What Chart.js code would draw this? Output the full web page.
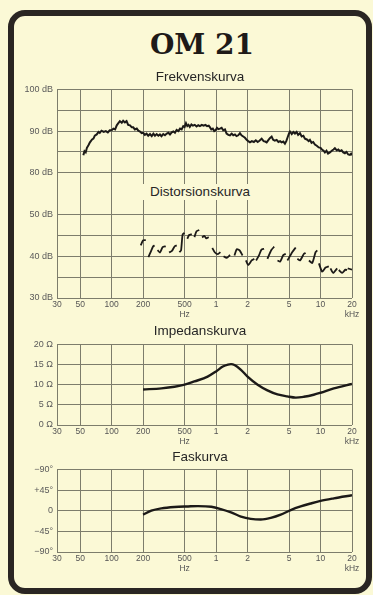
<!DOCTYPE html>
<html><head><meta charset="utf-8">
<script src="https://cdn.jsdelivr.net/npm/chart.js@4"></script>
<style>
html,body{margin:0;padding:0;background:#fdfce4;}
#page{position:relative;width:373px;height:595px;overflow:hidden;background:#fbf9d6;font-family:'Liberation Sans',Arial,sans-serif;}
#frame{position:absolute;left:8px;top:10px;width:364px;height:584px;box-sizing:border-box;border:6px solid #2a2623;border-radius:17px;}
.t{position:absolute;left:100px;width:200px;text-align:center;font-size:13.5px;color:#262626;line-height:16px;z-index:5;}
#main{position:absolute;left:102px;top:28px;width:200px;text-align:center;font-family:'DejaVu Serif',serif;font-weight:bold;font-size:28px;line-height:34px;color:#1e1a18;}
#dist{left:141px;width:118px;top:184px;height:16px;background:#fbf9d6;}
canvas{position:absolute;left:0;}
</style></head>
<body><div id="page">
<div id="frame"></div>
<div id="main">OM 21</div>
<div class="t" style="top:69px">Frekvenskurva</div>
<div class="t" id="dist">Distorsionskurva</div>
<div class="t" style="top:323px">Impedanskurva</div>
<div class="t" style="top:449px">Faskurva</div>
<canvas id="c1" width="373" height="242" style="top:80px"></canvas>
<canvas id="c2" width="373" height="114" style="top:335px"></canvas>
<canvas id="c3" width="373" height="116" style="top:460px"></canvas>
</div>
<script>
// ---- data ----
const freqHz = [53.6,55,56.5,58,60,62,65,67,69,72,75,77,80,84,88,92,96,100,104,108,112,116,120,125,129,134,139,144,150,156,161,167,174,180,187,194,201,208,216,224,233,242,251,260,270,280,290,300,312,324,337,350,362,376,390,404,419,435,452,468,485,500,515,530,545,560,580,600,625,650,675,700,730,760,790,820,850,875,900,930,960,990,1020,1050,1090,1130,1170,1216,1260,1310,1358,1410,1460,1515,1570,1630,1692,1750,1820,1890,1960,2030,2110,2200,2300,2400,2500,2600,2730,2850,2950,3048,3150,3270,3403,3520,3650,3800,3950,4100,4240,4400,4560,4700,4850,5000,5100,5300,5500,5690,5900,6100,6350,6600,6850,7090,7400,7700,7910,8200,8500,8830,9200,9600,10000,10300,10700,11000,11400,11800,12290,12800,13300,13720,14300,14800,15300,15900,16500,17100,17700,18400,19080,19600,20000];
const freqDb = [84.2,85.2,84.9,86.0,86.6,87.3,88.0,88.2,88.9,89.2,89.8,89.6,90.1,89.8,90.0,89.7,90.2,90.2,90.6,90.4,91.4,91.9,92.4,92.0,92.5,92.1,92.4,91.5,91.4,90.9,90.9,90.4,90.6,90.1,89.9,89.5,89.6,89.1,89.4,88.9,89.3,88.8,89.4,88.9,89.3,88.9,89.2,88.8,89.3,89.0,89.4,89.6,89.2,89.7,89.9,89.6,90.3,90.0,90.6,90.4,91.2,91.0,91.9,91.2,91.5,91.0,91.6,91.3,91.5,91.1,91.4,91.2,91.5,91.3,91.5,91.2,91.3,90.9,90.4,90.6,90.0,90.2,90.8,90.5,90.6,90.8,90.2,90.4,89.4,89.1,89.0,89.4,89.0,89.2,88.8,89.0,89.5,89.0,88.7,88.4,87.9,87.6,87.3,87.6,87.4,87.8,87.4,87.7,88.2,87.6,87.5,87.3,87.8,88.3,88.7,87.9,87.7,87.9,87.4,87.6,87.3,87.5,87.0,87.6,88.6,89.5,89.9,89.3,89.8,89.4,89.8,89.1,89.5,88.7,88.9,88.2,88.0,87.6,87.9,87.2,87.4,86.8,86.5,86.1,86.0,85.6,85.3,84.9,85.3,84.6,84.9,85.3,85.6,85.9,85.4,85.6,85.2,85.4,84.9,84.7,85.0,84.4,84.3,84.6,84.2];

// distortion: short sweeps, null separates the pieces
const distHz = [190,200,212,null,225,238,250,258,null,275,290,308,330,null,355,378,402,420,null,445,462,478,498,null,530,552,585,null,620,650,690,null,735,770,805,850,null,920,975,1040,1100,null,1180,1260,1360,null,1500,1580,1680,1790,null,1930,2030,2190,2320,null,2420,2580,2720,2880,null,3100,3380,3600,null,3870,4100,4400,4640,null,4820,5370,5780,null,6000,6360,6940,7200,null,7740,8330,8960,9300,null,9640,10370,11160,12000,null,12450,13200,14420,null,14950,16080,17300,17950,null,18200,20000];
const distDb = [42.6,43.8,43.9,null,39.8,41.2,42.4,42.6,null,41.5,40.9,42.2,42.4,null,40.9,41.3,42.4,42.6,null,41.0,41.4,45.2,45.6,null,44.2,45.1,45.3,null,44.6,46.0,46.3,null,44.5,44.9,44.3,44.6,null,42.0,40.9,40.5,41.0,null,40.0,39.6,40.3,null,40.2,41.7,41.4,40.2,null,39.0,37.9,39.0,39.4,null,39.0,40.3,41.6,41.8,null,39.4,41.5,42.3,null,39.0,38.7,40.3,40.6,null,39.0,41.0,42.1,null,39.4,39.0,40.6,40.8,null,39.0,38.4,41.0,41.4,null,38.3,36.3,37.3,37.6,null,37.1,36.0,37.1,null,36.7,36.0,36.8,36.7,null,37.1,36.8];

const impHz  = [200,300,400,500,620,830,1000,1160,1300,1390,1500,1730,2000,2500,3100,3870,4800,5800,6900,8600,10000,13400,20000];
const impOhm = [8.8,9.1,9.5,10.0,10.8,12.0,13.3,14.5,15.0,15.1,14.9,13.7,12.0,10.0,8.6,7.6,7.1,6.8,7.0,7.5,8.0,9.1,10.2];

const phaseHz  = [200,240,300,400,540,670,900,1110,1390,1730,2150,2680,3340,4160,5180,6450,8040,10000,13400,20000];
const phaseDeg = [-8.6,0,5,8,9.3,10,8.6,3.6,-3.6,-12.8,-17.8,-19.3,-15.7,-8.6,1.4,9.3,15.7,21.4,27,33.6];

const xTickValues = [30,50,100,200,500,1000,2000,5000,10000,20000];
const xTickLabels = ['30','50','100','200',['500','Hz'],'1','2','5','10',['20','kHz']];
const dbTickValues = [100,90,80,70,60,50];
const dbTickLabels = ['100 dB','90 dB','80 dB','50 dB','40 dB','30 dB'];
const ohmTickValues = [20,15,10,5,0];
const ohmTickLabels = ['20 Ω','15 Ω','10 Ω','5 Ω','0 Ω'];
const degTickValues = [90,45,0,-45,-90];
const degTickLabels = ['−90°','+45°','0','−45°','−90°'];

// ---- styling ----
const GRID = '#7d7d6c';
const INK = '#1c1a18';
Chart.defaults.font.family = "'Liberation Sans', Arial, sans-serif";
Chart.defaults.color = '#555';

const pts = (xs, ys) => xs.map((x, i) => ({x: x, y: ys[i]}));

function xAxis() {
  return {
    type: 'logarithmic', min: 30, max: 20000, position: 'bottom',
    afterBuildTicks: s => { s.ticks = xTickValues.map(v => ({value: v})); },
    afterFit: s => { s.height = 24; },
    ticks: { autoSkip: false, maxRotation: 0, minRotation: 0, padding: 2,
      font: {size: 8.5, lineHeight: 1.15}, color: '#555',
      callback: (v, i) => xTickLabels[i] },
    grid: { color: GRID, lineWidth: 1, drawTicks: false },
    border: { display: false }
  };
}
function yAxis(min, max, step, vals, labels, hide) {
  return {
    type: 'linear', min: min, max: max, position: 'left',
    afterBuildTicks: s => { const t = []; for (let v = max; v >= min; v -= step) t.push({value: v}); s.ticks = t; },
    afterFit: s => { s.width = 57; },
    ticks: { autoSkip: false, padding: 4, font: {size: 9}, color: '#5a5a5a',
      callback: v => { const i = vals.indexOf(v); return i < 0 ? '' : labels[i]; } },
    grid: { drawTicks: false, lineWidth: 1,
      color: c => (hide && c.tick && hide.indexOf(c.tick.value) >= 0) ? 'rgba(0,0,0,0)' : GRID },
    border: { display: false }
  };
}
function base(padTop) {
  return {
    responsive: false, animation: false, devicePixelRatio: 1,
    layout: { padding: { top: padTop, right: 21, left: 0, bottom: 0 } },
    plugins: { legend: { display: false }, tooltip: { enabled: false }, title: { display: false } },
    elements: { point: { radius: 0 } }
  };
}

// chart 1: frequency response + distortion
const o1 = base(7);
o1.scales = {
  x: xAxis(),
  y: yAxis(50, 100, 5, dbTickValues, dbTickLabels, [75]),
  y2: { type: 'linear', min: 30, max: 80, display: false }
};
new Chart(document.getElementById('c1'), {
  type: 'line',
  data: { datasets: [
    { data: pts(freqHz, freqDb), yAxisID: 'y', borderColor: INK, borderWidth: 2, tension: 0 },
    { data: pts(distHz, distDb), yAxisID: 'y2', borderColor: INK, borderWidth: 1.8, tension: 0.2, spanGaps: false }
  ]},
  options: o1
});

// chart 2: impedance
const o2 = base(7);
o2.scales = { x: xAxis(), y: yAxis(0, 20, 5, ohmTickValues, ohmTickLabels) };
new Chart(document.getElementById('c2'), {
  type: 'line',
  data: { datasets: [ { data: pts(impHz, impOhm), borderColor: INK, borderWidth: 2.4, cubicInterpolationMode: 'monotone' } ] },
  options: o2
});

// chart 3: phase
const o3 = base(8);
o3.scales = { x: xAxis(), y: yAxis(-90, 90, 45, degTickValues, degTickLabels) };
new Chart(document.getElementById('c3'), {
  type: 'line',
  data: { datasets: [ { data: pts(phaseHz, phaseDeg), borderColor: INK, borderWidth: 2.4, cubicInterpolationMode: 'monotone' } ] },
  options: o3
});
</script>
</body></html>
